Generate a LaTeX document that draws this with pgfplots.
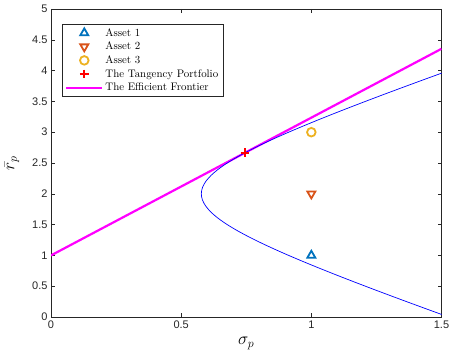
\documentclass[border=0pt]{standalone}
\usepackage{pgfplots}
\pgfplotsset{compat=1.18}
\usepackage{fontspec}
\newfontfamily\ticksans{Liberation Sans}
\usetikzlibrary{calc}

\definecolor{mblue}{rgb}{0,0.447,0.741}
\definecolor{morange}{rgb}{0.850,0.325,0.098}
\definecolor{myellow}{rgb}{0.929,0.694,0.125}
\definecolor{mmagenta}{rgb}{1,0,1}
\definecolor{mred}{rgb}{1,0,0}
\definecolor{mpure}{rgb}{0,0,1}
\definecolor{axgray}{rgb}{0.15,0.15,0.15}

\begin{document}
\begin{tikzpicture}
\begin{axis}[
  scale only axis,
  width=390.5pt, height=308pt,
  xmin=0, xmax=1.5, ymin=0, ymax=5,
  xtick={0,0.5,1,1.5},
  ytick={0,0.5,...,5},
  axis line style={axgray, line width=0.5pt},
  tick style={axgray, line width=0.5pt},
  major tick length=4pt,
  tick align=inside,
  /pgf/number format/assume math mode=true,
  ticklabel style={font=\ticksans\fontsize{11}{12}\selectfont, text=axgray},
  xlabel={$\sigma_p$},
  ylabel={$\bar{r}_p$},
  label style={font=\fontsize{17}{17}\selectfont},
  xlabel style={at={(axis description cs:0.5,-0.085)}, anchor=center},
  ylabel style={at={(axis description cs:-0.1,0.5)}, anchor=center},
  legend cell align=left,
  legend style={at={(0.028,0.951)}, anchor=north west, draw=axgray,
    line width=0.5pt, font=\fontsize{10.9}{12}\selectfont,
    inner xsep=3pt, inner ysep=2pt, row sep=0.4pt},
  legend image code/.code={%
    \draw[mark repeat=2, mark phase=2]
      plot coordinates {(0pt,0pt) (18pt,0pt) (36pt,0pt)};},
]
% individual assets
\addplot[only marks, mark=triangle, mblue, line width=1.8pt, mark size=4.6pt]
  coordinates {(1,1)};
\addlegendentry{Asset 1}
\addplot[only marks, mark=triangle, morange, line width=1.8pt, mark size=4.6pt,
  mark options={rotate=180}]
  coordinates {(1,2)};
\addlegendentry{Asset 2}
\addplot[only marks, mark=o, myellow, line width=1.8pt, mark size=4.3pt]
  coordinates {(1,3)};
\addlegendentry{Asset 3}

% capital market line through the tangency portfolio
\addplot[mmagenta, line width=2.2pt, forget plot] coordinates {(0,1) (1.5,4.35410)};

% minimum-variance frontier (sigma, mean)
\addplot[mpure, line width=0.7pt, smooth, forget plot] coordinates {
  (1.52753,0.0) (1.46230,0.1) (1.39762,0.2) (1.33354,0.3) (1.27017,0.4)
  (1.20761,0.5) (1.14601,0.6) (1.08551,0.7) (1.02632,0.8) (0.96868,0.9)
  (0.91287,1.0) (0.85926,1.1) (0.80829,1.2) (0.76048,1.3) (0.71647,1.4)
  (0.67700,1.5) (0.64291,1.6) (0.61509,1.7) (0.59442,1.8) (0.58166,1.9)
  (0.57735,2.0)
  (0.58166,2.1) (0.59442,2.2) (0.61509,2.3) (0.64291,2.4) (0.67700,2.5)
  (0.71647,2.6) (0.76048,2.7) (0.80829,2.8) (0.85926,2.9) (0.91287,3.0)
  (0.96868,3.1) (1.02632,3.2) (1.08551,3.3) (1.14601,3.4) (1.20761,3.5)
  (1.27017,3.6) (1.33354,3.7) (1.39762,3.8) (1.46230,3.9) (1.52753,4.0)
};

% tangency portfolio
\addplot[only marks, mark=+, mred, line width=1.8pt, mark size=4.3pt]
  coordinates {(0.74536,2.66667)};
\addlegendentry{The Tangency Portfolio}

\addlegendimage{mmagenta, line width=2.2pt}
\addlegendentry{The Efficient Frontier}
\end{axis}
\pgfresetboundingbox
\path ($(current axis.south west)+(-51pt,-42pt)$) rectangle ($(current axis.north east)+(9.5pt,9pt)$);
\end{tikzpicture}
\end{document}
